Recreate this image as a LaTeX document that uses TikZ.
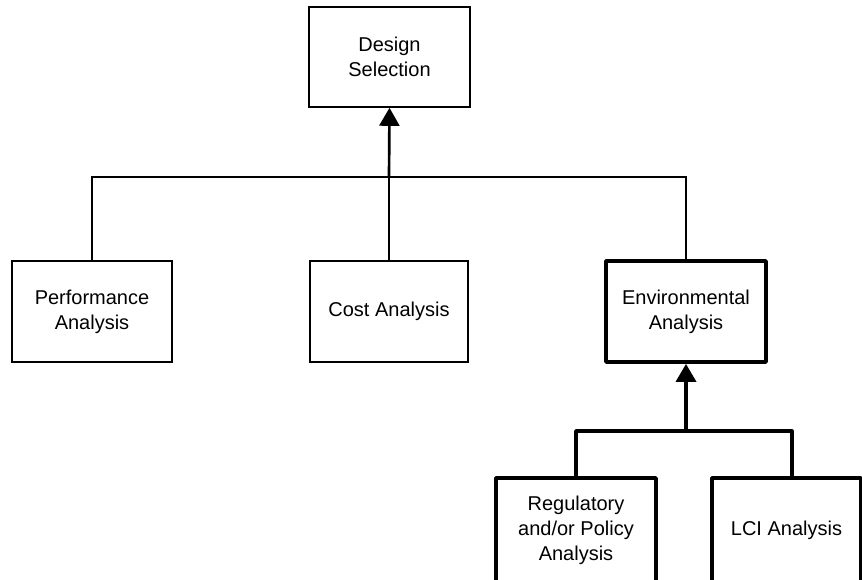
\documentclass[tikz,border=0pt]{standalone}
\usepackage{fontspec}
\setmainfont{Liberation Sans}
\usetikzlibrary{arrows.meta}
\tikzset{
  box/.style={draw, line width=1.2pt, align=center, inner sep=0pt,
    font=\fontsize{15pt}{18.75pt}\selectfont},
  boldbox/.style={box, line width=2.8pt, line join=round},
  link/.style={line width=1.2pt},
  boldlink/.style={line width=2.6pt, line join=round},
  uparrow/.style={-{Triangle[width=15pt,length=13.5pt]}},
}
\begin{document}
\begin{tikzpicture}[x=0.75pt, y=-0.75pt]
  \clip (0,0) rectangle (862,579);
  \fill[white] (0,0) rectangle (862,579);

  % boxes
  \node[box, minimum width=120.75pt, minimum height=75pt] (ds) at (389.5,57) {Design\\Selection};
  \node[box, minimum width=120pt, minimum height=75.75pt] (perf) at (92,311.5) {Performance\\Analysis};
  \node[box, minimum width=118.5pt, minimum height=75.75pt] (cost) at (389,311.5) {Cost Analysis};
  \node[boldbox, minimum width=120pt, minimum height=75.75pt] (env) at (686,311.5) {Environmental\\Analysis};
  \node[boldbox, minimum width=120pt, minimum height=78pt] (reg) at (576,530) {Regulatory\\and/or Policy\\Analysis};
  \node[boldbox, minimum width=111.75pt, minimum height=78pt] (lci) at (786.5,530) {LCI Analysis};

  % junction points of the two trees
  \coordinate (bus) at (389,177);
  \coordinate (bus2) at (686,431);
  \coordinate (lcitop) at ([xshift=4pt]lci.north);

  % upper tree
  \draw[link] (perf.north) |- (bus) -| (env.north);
  \draw[link] (cost.north) -- (bus);
  \draw[line width=2pt, uparrow] (bus) -- (ds.south);

  % lower tree
  \draw[boldlink] (reg.north) |- (bus2) -| (lcitop);
  \draw[boldlink, uparrow] (bus2) -- (env.south);
\end{tikzpicture}
\end{document}
